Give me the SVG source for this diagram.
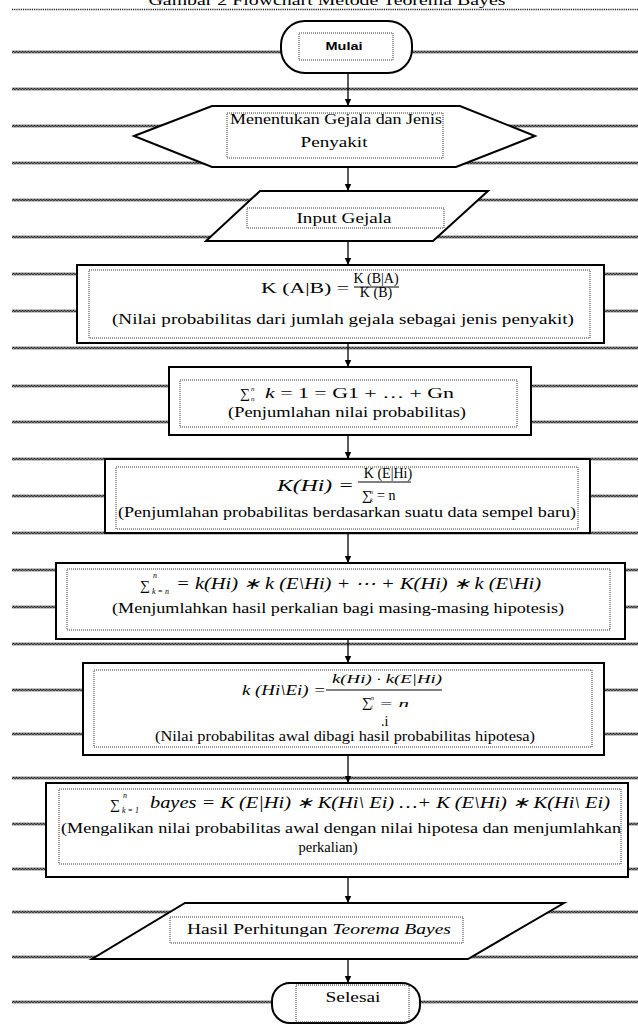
<svg xmlns="http://www.w3.org/2000/svg" xmlns:xlink="http://www.w3.org/1999/xlink" width="638" height="1026" viewBox="0 0 638 1026">
<style>
.t{font-family:"Liberation Serif",serif;font-size:14px;fill:#000}
.i{font-family:"Liberation Serif",serif;font-style:italic;fill:#000}
.sb{font-family:"Liberation Sans",sans-serif;font-weight:bold;font-size:11px;fill:#000}
.box{fill:#fff;stroke:#000;stroke-width:2}
.in{fill:none;stroke:#333;stroke-width:1;stroke-dasharray:1 1}
.cn{stroke:#000;stroke-width:1.3;fill:none;marker-end:url(#ah)}
.bar{stroke:#000;stroke-width:1}
</style>
<defs>
<pattern id="wave" patternUnits="userSpaceOnUse" x="0" y="-1.5" width="3" height="3">
<path d="M0,2.5 L1.5,0.5 L3,2.5" fill="none" stroke="#1a1a1a" stroke-width="1.3"/>
</pattern>
<rect id="wv" x="12" y="-1.5" width="626" height="3" fill="url(#wave)"/>
<marker id="ah" markerWidth="8" markerHeight="8" refX="7" refY="4" orient="auto" markerUnits="userSpaceOnUse">
<path d="M0,0.8 L7,4 L0,7.2 z" fill="#000"/>
</marker>
</defs>
<rect width="638" height="1026" fill="#fff"/>
<text class="t" x="327" y="5" font-size="21" text-anchor="middle" textLength="357" lengthAdjust="spacingAndGlyphs">Gambar 2 Flowchart Metode Teorema Bayes</text>
<line x1="12" y1="9.5" x2="638" y2="9.5" stroke="#222" stroke-width="1.3" stroke-dasharray="1.2 1"/>
<g id="lines">
<use xlink:href="#wv" y="52"/><use xlink:href="#wv" y="89"/><use xlink:href="#wv" y="126"/><use xlink:href="#wv" y="163"/>
<use xlink:href="#wv" y="200"/><use xlink:href="#wv" y="237"/><use xlink:href="#wv" y="274"/><use xlink:href="#wv" y="311"/>
<use xlink:href="#wv" y="348"/><use xlink:href="#wv" y="386"/><use xlink:href="#wv" y="422"/><use xlink:href="#wv" y="459"/>
<use xlink:href="#wv" y="496"/><use xlink:href="#wv" y="533"/><use xlink:href="#wv" y="570"/><use xlink:href="#wv" y="607"/>
<use xlink:href="#wv" y="644"/><use xlink:href="#wv" y="690"/><use xlink:href="#wv" y="734"/><use xlink:href="#wv" y="778"/>
<use xlink:href="#wv" y="824"/><use xlink:href="#wv" y="869"/><use xlink:href="#wv" y="912"/><use xlink:href="#wv" y="957"/>
<use xlink:href="#wv" y="1002"/>
</g>
<g id="connectors">
<line class="cn" x1="348" y1="73" x2="348" y2="106"/>
<line class="cn" x1="348" y1="167" x2="348" y2="191"/>
<line class="cn" x1="348" y1="241" x2="348" y2="265"/>
<line class="cn" x1="348" y1="343" x2="348" y2="367"/>
<line class="cn" x1="348" y1="435" x2="348" y2="459"/>
<line class="cn" x1="348" y1="533" x2="348" y2="563"/>
<line class="cn" x1="348" y1="639" x2="348" y2="663"/>
<line class="cn" x1="348" y1="755" x2="348" y2="783"/>
<line class="cn" x1="348" y1="877" x2="348" y2="903"/>
<line class="cn" x1="348" y1="959" x2="348" y2="983"/>
</g>
<g id="mulai">
<rect class="box" x="281" y="21" width="131" height="52" rx="24"/>
<rect class="in" x="299" y="33" width="94" height="27"/>
<text class="sb" x="344" y="50" text-anchor="middle" textLength="37" lengthAdjust="spacingAndGlyphs">Mulai</text>
</g>
<g id="menentukan">
<polygon class="box" points="134,136 212,106 460,106 535,136 456,167 212,167"/>
<rect class="in" x="227" y="113" width="216" height="45"/>
<text class="t" x="336" y="124" text-anchor="middle" textLength="212" lengthAdjust="spacingAndGlyphs">Menentukan Gejala dan Jenis</text>
<text class="t" x="334" y="147" text-anchor="middle" textLength="67" lengthAdjust="spacingAndGlyphs">Penyakit</text>
</g>
<g id="input">
<polygon class="box" points="260,191 488,191 433,241 206,241"/>
<rect class="in" x="247" y="208" width="197" height="20"/>
<text class="t" x="344" y="223" text-anchor="middle" textLength="95" lengthAdjust="spacingAndGlyphs">Input Gejala</text>
</g>
<g id="kab">
<rect class="box" x="77" y="265" width="527" height="78"/>
<rect class="in" x="89" y="270" width="501" height="68"/>
<text class="t" x="261" y="293" font-size="18" textLength="88" lengthAdjust="spacingAndGlyphs">K (A|B) =</text>
<text class="t" x="376" y="283" font-size="9" text-anchor="middle">K (B|A)</text>
<line class="bar" x1="354" y1="287" x2="399" y2="287"/>
<text class="t" x="376" y="297" font-size="9" text-anchor="middle">K (B)</text>
<text class="t" x="343" y="324" text-anchor="middle" textLength="462" lengthAdjust="spacingAndGlyphs">(Nilai probabilitas dari jumlah gejala  sebagai jenis penyakit)</text>
</g>
<g id="sum1">
<rect class="box" x="169" y="367" width="362" height="68"/>
<rect class="in" x="180" y="380" width="337" height="47"/>
<text class="t" x="240" y="398" font-size="15">∑</text>
<text class="i" x="251" y="391" font-size="7">n</text>
<text class="i" x="251" y="401" font-size="7">n</text>
<text class="t" x="265" y="398" font-size="15" textLength="189" lengthAdjust="spacingAndGlyphs"><tspan font-style="italic">k</tspan> = 1 = G1 + … + Gn</text>
<text class="t" x="347" y="417" text-anchor="middle" textLength="238" lengthAdjust="spacingAndGlyphs">(Penjumlahan nilai probabilitas)</text>
</g>
<g id="khi">
<rect class="box" x="105" y="459" width="485" height="74"/>
<rect class="in" x="116" y="467" width="462" height="62"/>
<text class="i" x="277" y="491" font-size="17" textLength="77" lengthAdjust="spacingAndGlyphs">K(Hi) =</text>
<text class="t" x="388" y="478" font-size="9" text-anchor="middle">K (E|Hi)</text>
<line class="bar" x1="358" y1="482" x2="411" y2="482"/>
<text class="t" x="362" y="500" font-size="10">∑</text>
<text class="i" x="370" y="494" font-size="6">n</text>
<text class="i" x="370" y="502" font-size="6">k</text>
<text class="t" x="377" y="500" font-size="9">= n</text>
<text class="t" x="347" y="517" text-anchor="middle" textLength="458" lengthAdjust="spacingAndGlyphs">(Penjumlahan probabilitas berdasarkan suatu data sempel baru)</text>
</g>
<g id="sum2">
<rect class="box" x="56" y="563" width="569" height="76"/>
<rect class="in" x="67" y="569" width="543" height="61"/>
<text class="t" x="140" y="590" font-size="17">∑</text>
<text class="i" x="153" y="578" font-size="8">n</text>
<text class="i" x="152" y="594" font-size="8">k = n</text>
<text class="i" x="176" y="589" font-size="16" textLength="365" lengthAdjust="spacingAndGlyphs">= k(Hi) ∗ k (E\Hi) + ⋯ + K(Hi) ∗ k (E\Hi)</text>
<text class="t" x="338" y="613" text-anchor="middle" textLength="452" lengthAdjust="spacingAndGlyphs">(Menjumlahkan hasil perkalian bagi masing-masing hipotesis)</text>
</g>
<g id="khiei">
<rect class="box" x="83" y="663" width="521" height="92"/>
<rect class="in" x="94" y="670" width="498" height="77"/>
<text class="i" x="242" y="695" font-size="14" textLength="84" lengthAdjust="spacingAndGlyphs">k (Hi\Ei) =</text>
<text class="i" x="387" y="683" font-size="13" text-anchor="middle" textLength="110" lengthAdjust="spacingAndGlyphs">k(Hi) · k(E|Hi)</text>
<line class="bar" x1="326" y1="690" x2="442" y2="690"/>
<text class="t" x="362" y="707" font-size="11">∑</text>
<text class="i" x="371" y="700" font-size="6">n</text>
<text class="i" x="371" y="709" font-size="6">i</text>
<text class="i" x="379" y="707" font-size="11" textLength="30" lengthAdjust="spacingAndGlyphs">= n</text>
<text class="t" x="381" y="726" font-size="7">.i</text>
<text class="t" x="345" y="741" text-anchor="middle" textLength="380" lengthAdjust="spacingAndGlyphs">(Nilai probabilitas awal dibagi hasil probabilitas hipotesa)</text>
</g>
<g id="bayes">
<rect class="box" x="46" y="783" width="582" height="94"/>
<rect class="in" x="59" y="789" width="562" height="75"/>
<text class="t" x="110" y="809" font-size="17">∑</text>
<text class="i" x="123" y="798" font-size="8">n</text>
<text class="i" x="122" y="813" font-size="8">k = 1</text>
<text class="i" x="150" y="808" font-size="16" textLength="460" lengthAdjust="spacingAndGlyphs">bayes = K (E|Hi) ∗ K(Hi\ Ei) …+ K (E\Hi) ∗ K(Hi\ Ei)</text>
<text class="t" x="341" y="833" text-anchor="middle" textLength="560" lengthAdjust="spacingAndGlyphs">(Mengalikan nilai probabilitas awal dengan nilai hipotesa dan menjumlahkan</text>
<text class="t" x="328" y="852" text-anchor="middle" textLength="59" lengthAdjust="spacingAndGlyphs">perkalian)</text>
</g>
<g id="hasil">
<polygon class="box" points="185,903 564,903 468,959 92,959"/>
<rect class="in" x="170" y="917" width="293" height="26"/>
<text class="t" x="187" y="934" textLength="264" lengthAdjust="spacingAndGlyphs">Hasil Perhitungan <tspan font-style="italic">Teorema Bayes</tspan></text>
</g>
<g id="selesai">
<rect class="box" x="272" y="983" width="148" height="40" rx="18"/>
<rect class="in" x="296" y="985" width="113" height="37"/>
<text class="t" x="353" y="1002" text-anchor="middle" textLength="55" lengthAdjust="spacingAndGlyphs">Selesai</text>
</g>
</svg>
